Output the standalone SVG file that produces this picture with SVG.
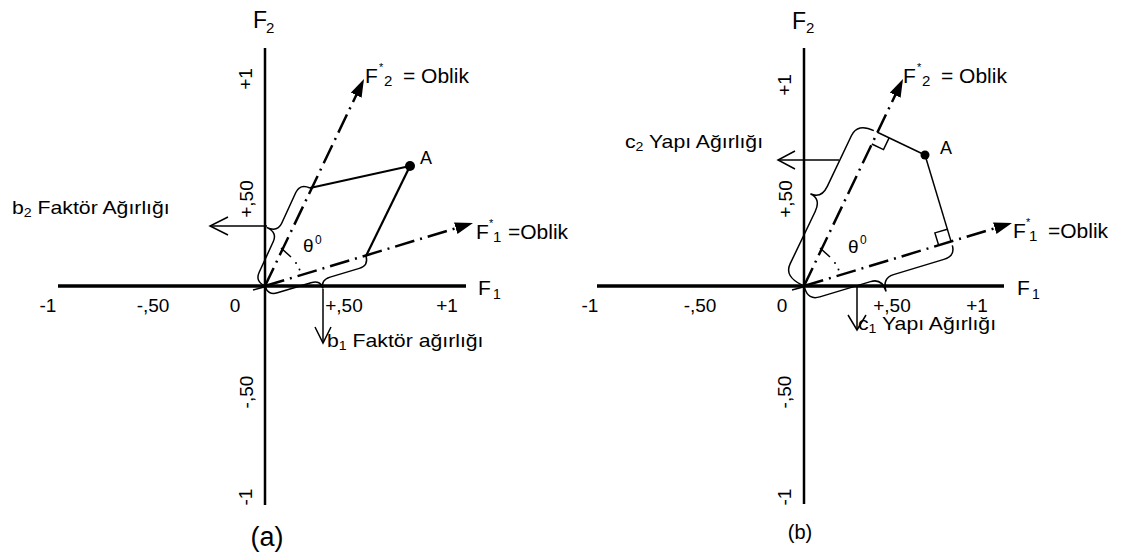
<svg xmlns="http://www.w3.org/2000/svg" width="1125" height="558" viewBox="0 0 1125 558">
<style>
  text { font-family: "Liberation Sans", Arial, sans-serif; fill: #000; }
  .axisv { stroke: #000; stroke-width: 2.5; fill: none; }
  .axish { stroke: #000; stroke-width: 3.5; fill: none; }
  .dash { stroke: #000; stroke-width: 2.5; fill: none; stroke-dasharray: 20 6 2 6; }
  .projA { stroke: #000; stroke-width: 2.2; fill: none; }
  .projB { stroke: #000; stroke-width: 1.5; fill: none; }
  .brace { stroke: #000; stroke-width: 1.5; fill: none; }
  .conn { stroke: #000; stroke-width: 1.5; fill: none; }
  .tick { font-size: 19px; }
  .axl { font-size: 21px; }
  .lbl { font-size: 18px; }
</style>
<defs>
  <marker id="ah" viewBox="0 0 18 12" refX="6" refY="6" markerWidth="18" markerHeight="12" markerUnits="userSpaceOnUse" orient="auto">
    <path d="M0,0 L18,6 L0,12 z" fill="#000"/>
  </marker>
</defs>

<!-- ========== Panel (a) ========== -->
<g id="panel-a">
  <g id="axes-a">
    <line class="axisv" x1="265" y1="48" x2="265" y2="505"/>
    <line class="axish" x1="58" y1="286" x2="466" y2="286"/>
    <line class="conn" x1="253" y1="290" x2="264" y2="287"/>
  </g>
  <g id="axis-labels-a">
    <text x="253" y="28" font-size="23">F<tspan x="266" y="33" font-size="15">2</tspan></text>
    <text class="axl" x="478" y="295">F<tspan x="493" y="299" font-size="14">1</tspan></text>
  </g>
  <g id="ticks-a" class="tick" text-anchor="middle">
    <text x="48" y="312">-1</text>
    <text x="153" y="312">-,50</text>
    <text x="235" y="312">0</text>
    <text x="344" y="312">+,50</text>
    <text x="447" y="312">+1</text>
    <text transform="translate(252,79) rotate(-90)">+1</text>
    <text transform="translate(253,199) rotate(-90)">+,50</text>
    <text transform="translate(253,392) rotate(-90)">-,50</text>
    <text transform="translate(252,497) rotate(-90)">-1</text>
  </g>
  <g id="oblique-labels-a">
    <text class="axl" x="365" y="83">F</text>
    <text x="379" y="71" font-size="11">*</text>
    <text x="384" y="86" font-size="15">2</text>
    <text class="axl" x="403" y="83">= Oblik</text>
    <text class="axl" x="476" y="239">F</text>
    <text x="489" y="227" font-size="11">*</text>
    <text x="493" y="242" font-size="15">1</text>
    <text class="axl" x="508" y="239">=Oblik</text>
  </g>
  <g id="pointA-a">
    <line class="projA" x1="410" y1="166" x2="310" y2="188"/>
    <line class="projA" x1="410" y1="166" x2="366" y2="256"/>
    <circle cx="410" cy="166" r="5" fill="#000"/>
    <text class="lbl" x="420" y="164">A</text>
  </g>
  <g id="theta-a">
    <line class="conn" x1="281" y1="248" x2="291" y2="257"/>
    <circle cx="296" cy="263" r="1" fill="#000"/>
    <circle cx="299.5" cy="269.5" r="1" fill="#000"/>
    <text x="303" y="252" font-size="19">θ</text>
    <text x="315" y="244" font-size="12">0</text>
  </g>
  <g id="brace-b2">
    <path class="brace" d="M265,286 Q255,281.4 259.2,272.3 L273.3,241.5 Q277.5,232.4 266.6,227.4 Q277.5,232.4 281.7,223.3 L295.8,192.5 Q300,183.4 310,188"/>
    <text class="lbl" transform="translate(12,214) scale(1.18,1)">b<tspan font-size="12" dy="3">2</tspan><tspan dy="-3"> Faktör Ağırlığı</tspan></text>
  </g>
  <g id="brace-b1">
    <path class="brace" d="M265,286 Q267.8,295.6 277.4,292.8 L311,282.8 Q320.5,279.9 323.1,288.5 Q320.5,279.9 330.1,277.1 L359.3,268.4 Q368.8,265.6 366,256"/>
    <text class="lbl" transform="translate(327,347) scale(1.18,1)">b<tspan font-size="12" dy="3">1</tspan><tspan dy="-3"> Faktör ağırlığı</tspan></text>
  </g>
  <text id="caption-a" x="267" y="546" font-size="27" text-anchor="middle">(a)</text>
</g>

<!-- ========== Panel (b) ========== -->
<g id="panel-b">
  <g id="axes-b">
    <line class="axisv" x1="804" y1="48" x2="804" y2="504"/>
    <line class="axish" x1="597" y1="286" x2="1004" y2="286"/>
    <line class="conn" x1="792" y1="290" x2="803" y2="287"/>
  </g>
  <g id="axis-labels-b">
    <text x="792" y="29" font-size="23">F<tspan x="806" y="33" font-size="15">2</tspan></text>
    <text class="axl" x="1017" y="295">F<tspan x="1032" y="299" font-size="14">1</tspan></text>
  </g>
  <g id="ticks-b" class="tick" text-anchor="middle">
    <text x="590" y="312">-1</text>
    <text x="700" y="312">-,50</text>
    <text x="782" y="312">0</text>
    <text x="892" y="312">+,50</text>
    <text x="977" y="312">+1</text>
    <text transform="translate(791,85) rotate(-90)">+1</text>
    <text transform="translate(792,199) rotate(-90)">+,50</text>
    <text transform="translate(791,392) rotate(-90)">-,50</text>
    <text transform="translate(791,497) rotate(-90)">-1</text>
  </g>
  <g id="oblique-labels-b">
    <text class="axl" x="903" y="83">F</text>
    <text x="917" y="71" font-size="11">*</text>
    <text x="922" y="86" font-size="15">2</text>
    <text class="axl" x="941" y="83">= Oblik</text>
    <text class="axl" x="1013" y="238">F</text>
    <text x="1026" y="226" font-size="11">*</text>
    <text x="1029" y="241" font-size="15">1</text>
    <text class="axl" x="1048" y="238">=Oblik</text>
  </g>
  <g id="pointA-b">
    <line class="projB" x1="925" y1="155" x2="877.4" y2="132.3"/>
    <line class="projB" x1="925" y1="155" x2="951.1" y2="241.6"/>
    <path class="projB" d="M871.8,144 L883.5,149.6 L889.1,137.9"/>
    <path class="projB" d="M938.7,245.4 L934.9,232.9 L947.3,229.2"/>
    <circle cx="925" cy="155" r="4.5" fill="#000"/>
    <text class="lbl" x="940" y="154">A</text>
  </g>
  <g id="theta-b">
    <line class="conn" x1="820" y1="248" x2="830" y2="257"/>
    <circle cx="835" cy="263" r="1" fill="#000"/>
    <circle cx="838.5" cy="269.5" r="1" fill="#000"/>
    <text x="848" y="253" font-size="19">θ</text>
    <text x="860" y="244" font-size="12">0</text>
  </g>
  <g id="brace-c2">
    <path class="brace" d="M802.2,285.1 Q784.1,276.5 790.1,263.9 L815.2,211.5 Q821.2,198.9 810.4,193.8 Q821.2,198.9 827.3,186.3 L851.5,135.5 Q857.6,122.8 873.8,130.6"/>
    <text class="lbl" transform="translate(625,148) scale(1.18,1)">c<tspan font-size="12" dy="3">2</tspan><tspan dy="-3"> Yapı Ağırlığı</tspan></text>
  </g>
  <g id="brace-c1">
    <path class="brace" d="M804.6,287.9 Q808.3,300.4 819.8,296.9 L870.5,281.6 Q882,278.1 886.1,291.5 Q882,278.1 893.5,274.6 L943.9,259.4 Q955.4,255.9 952.3,245.4"/>
    <text class="lbl" transform="translate(858,330) scale(1.18,1)">c<tspan font-size="12" dy="3">1</tspan><tspan dy="-3"> Yapı Ağırlığı</tspan></text>
  </g>
  <text id="caption-b" x="800" y="539" font-size="20" text-anchor="middle">(b)</text>
</g>

<!-- ========== Connectors ========== -->
<g id="connectors">
  <line class="dash" x1="265" y1="286" x2="358.8" y2="89.8" marker-end="url(#ah)"/>
  <line class="dash" x1="265" y1="286" x2="461.5" y2="226.5" marker-end="url(#ah)"/>
  <line class="dash" x1="804" y1="286" x2="897.8" y2="89.8" marker-end="url(#ah)"/>
  <line class="dash" x1="804" y1="286" x2="1000.5" y2="226.5" marker-end="url(#ah)"/>
  <line class="conn" x1="267" y1="226" x2="210" y2="226"/>
  <polyline class="conn" points="228,217 210,226 228,235"/>
  <line class="conn" x1="323" y1="289" x2="323" y2="343"/>
  <polyline class="conn" points="315,327 323,343 331,327"/>
  <line class="conn" x1="839" y1="160" x2="778" y2="160"/>
  <polyline class="conn" points="795,151 778,160 795,169"/>
  <line class="conn" x1="857" y1="286" x2="857" y2="330"/>
  <polyline class="conn" points="848,315 857,330 866,315"/>
</g>
</svg>
